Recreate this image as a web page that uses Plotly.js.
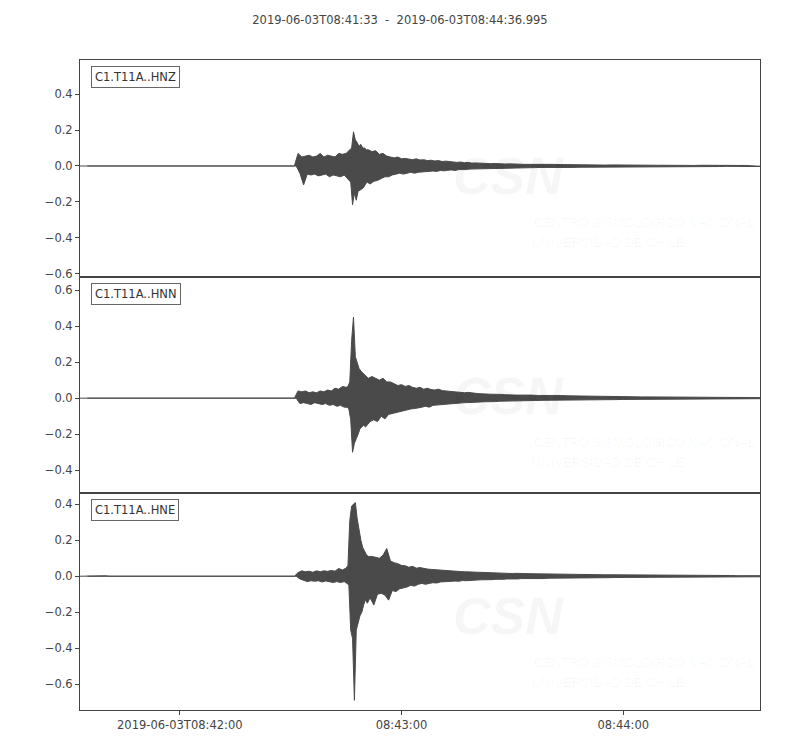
<!DOCTYPE html>
<html>
<head>
<meta charset="utf-8">
<script src="https://cdn.plot.ly/plotly-3.0.1.min.js"></script>
<style>
  body { margin: 0; background: #fff; }
  #seis { width: 800px; height: 750px; }
</style>
</head>
<body>
<div id="seis"></div>
<script>
// channel names shown in the boxes
var channels = ['C1.T11A..HNZ', 'C1.T11A..HNN', 'C1.T11A..HNE'];

// sample times, seconds after 2019-06-03T08:41:33
var tSec = [0, 4, 5, 6, 7, 8, 58,
  59, 60, 61, 62, 63, 64, 65, 66, 67, 68, 69, 70, 71,
  72, 72.5, 73, 73.5, 74, 74.5, 75, 75.5, 76, 76.5, 77, 77.5, 78,
  79, 80, 81, 82, 83, 84, 85, 86, 87, 88, 89, 90, 91, 92, 93, 94, 95, 96, 97, 98, 99,
  100, 101, 102, 103, 104, 105, 106, 107, 108, 109, 110, 111, 112, 113, 114, 115, 116, 117, 118, 119, 120,
  122, 124, 126, 128, 130, 132, 134, 136, 138, 140, 142, 144, 146, 148, 150, 152, 154, 156, 158,
  160, 162, 164, 166, 168, 170, 172, 174, 176, 178, 180, 182, 184];

// upper / lower swing of each trace at every sample time
var hnzUp = [0, 0, 0, 0, 0, 0, 0,
  0.07, 0.05, 0.055, 0.06, 0.05, 0.055, 0.07, 0.05, 0.06, 0.055, 0.05, 0.07, 0.065,
  0.07, 0.08, 0.09, 0.1, 0.19, 0.145, 0.13, 0.11, 0.12, 0.1, 0.1, 0.09, 0.09,
  0.08, 0.085, 0.065, 0.07, 0.055, 0.05, 0.045, 0.05, 0.04, 0.042, 0.038, 0.035, 0.04, 0.033, 0.035, 0.03, 0.032, 0.028, 0.03, 0.025, 0.027,
  0.024, 0.022, 0.02, 0.022, 0.018, 0.02, 0.016, 0.017, 0.015, 0.016, 0.014, 0.013, 0.014, 0.012, 0.013, 0.011, 0.012, 0.01, 0.011, 0.01, 0.009,
  0.01, 0.009, 0.008, 0.009, 0.008, 0.007, 0.008, 0.007, 0.006, 0.006, 0.005, 0.006, 0.005, 0.005, 0.004, 0.005, 0.004, 0.004, 0.004,
  0.003, 0.004, 0.003, 0.003, 0.004, 0.003, 0.003, 0.003, 0.002, 0.003, 0.003, 0.002, 0.002];
var hnzLo = [0, 0, 0, 0, 0, 0, 0,
  -0.04, -0.105, -0.045, -0.05, -0.045, -0.055, -0.05, -0.045, -0.06, -0.05, -0.055, -0.06, -0.05,
  -0.065, -0.08, -0.09, -0.215, -0.15, -0.19, -0.14, -0.135, -0.13, -0.12, -0.1, -0.09, -0.1,
  -0.085, -0.08, -0.07, -0.06, -0.06, -0.05, -0.045, -0.04, -0.045, -0.04, -0.035, -0.04, -0.035, -0.03, -0.032, -0.03, -0.028, -0.03, -0.025, -0.027, -0.024,
  -0.022, -0.025, -0.02, -0.018, -0.02, -0.017, -0.018, -0.015, -0.016, -0.014, -0.015, -0.012, -0.013, -0.012, -0.011, -0.012, -0.01, -0.011, -0.01, -0.009, -0.01,
  -0.009, -0.008, -0.009, -0.008, -0.007, -0.008, -0.007, -0.006, -0.007, -0.006, -0.006, -0.005, -0.005, -0.004, -0.005, -0.004, -0.004, -0.004, -0.003,
  -0.004, -0.003, -0.003, -0.004, -0.003, -0.003, -0.003, -0.002, -0.003, -0.003, -0.002, -0.003, -0.002];

var hnnUp = [0, 0, 0, 0, 0, 0, 0,
  0.04, 0.035, 0.04, 0.03, 0.035, 0.03, 0.04, 0.035, 0.045, 0.04, 0.055, 0.05, 0.065,
  0.06, 0.065, 0.09, 0.32, 0.45, 0.23, 0.19, 0.165, 0.15, 0.14, 0.13, 0.12, 0.11,
  0.12, 0.11, 0.1, 0.11, 0.09, 0.09, 0.08, 0.07, 0.075, 0.065, 0.07, 0.06, 0.055, 0.06, 0.05, 0.055, 0.048, 0.045, 0.05, 0.042, 0.04,
  0.038, 0.035, 0.036, 0.032, 0.03, 0.032, 0.028, 0.027, 0.025, 0.026, 0.023, 0.022, 0.023, 0.02, 0.021, 0.019, 0.02, 0.018, 0.017, 0.018, 0.016,
  0.017, 0.015, 0.016, 0.014, 0.015, 0.013, 0.012, 0.012, 0.011, 0.01, 0.01, 0.009, 0.009, 0.008, 0.008, 0.007, 0.007, 0.007, 0.006,
  0.006, 0.006, 0.005, 0.005, 0.005, 0.005, 0.004, 0.004, 0.004, 0.004, 0.003, 0.003, 0.003];
var hnnLo = [0, 0, 0, 0, 0, 0, 0,
  -0.03, -0.025, -0.03, -0.035, -0.025, -0.03, -0.035, -0.03, -0.04, -0.035, -0.045, -0.04, -0.05,
  -0.05, -0.06, -0.12, -0.3, -0.25, -0.23, -0.2, -0.17, -0.16, -0.15, -0.16, -0.15, -0.13,
  -0.12, -0.13, -0.1, -0.115, -0.09, -0.085, -0.08, -0.075, -0.07, -0.065, -0.06, -0.058, -0.055, -0.05, -0.045, -0.05, -0.04, -0.042, -0.038, -0.035, -0.036,
  -0.032, -0.03, -0.028, -0.026, -0.025, -0.024, -0.022, -0.023, -0.021, -0.02, -0.02, -0.018, -0.019, -0.017, -0.016, -0.017, -0.015, -0.016, -0.014, -0.015, -0.013,
  -0.013, -0.012, -0.012, -0.011, -0.011, -0.01, -0.01, -0.009, -0.009, -0.009, -0.008, -0.008, -0.007, -0.007, -0.007, -0.006, -0.006, -0.006, -0.005,
  -0.005, -0.005, -0.005, -0.004, -0.004, -0.004, -0.004, -0.004, -0.003, -0.003, -0.003, -0.003, -0.003];

var hneUp = [0, 0.003, 0.002, 0.003, 0.002, 0, 0,
  0.02, 0.03, 0.025, 0.028, 0.022, 0.03, 0.025, 0.03, 0.027, 0.032, 0.028, 0.043, 0.035,
  0.045, 0.06, 0.31, 0.39, 0.4, 0.41, 0.32, 0.25, 0.2, 0.16, 0.14, 0.12, 0.11,
  0.11, 0.105, 0.1, 0.117, 0.154, 0.085, 0.075, 0.07, 0.06, 0.058, 0.05, 0.055, 0.045, 0.048, 0.042, 0.04, 0.038, 0.036, 0.034, 0.032, 0.03,
  0.031, 0.028, 0.027, 0.026, 0.025, 0.024, 0.023, 0.022, 0.022, 0.02, 0.021, 0.019, 0.018, 0.019, 0.017, 0.016, 0.017, 0.015, 0.016, 0.014, 0.015,
  0.014, 0.013, 0.012, 0.013, 0.011, 0.012, 0.01, 0.01, 0.009, 0.009, 0.008, 0.008, 0.008, 0.007, 0.007, 0.007, 0.006, 0.006, 0.006,
  0.005, 0.005, 0.005, 0.005, 0.004, 0.004, 0.004, 0.004, 0.004, 0.003, 0.003, 0.003, 0.003];
var hneLo = [0, -0.003, -0.003, -0.002, -0.002, 0, 0,
  -0.015, -0.022, -0.03, -0.025, -0.028, -0.025, -0.032, -0.026, -0.03, -0.035, -0.03, -0.035, -0.03,
  -0.04, -0.05, -0.3, -0.346, -0.69, -0.3, -0.27, -0.22, -0.2, -0.16, -0.13, -0.15, -0.12,
  -0.16, -0.1, -0.095, -0.105, -0.133, -0.08, -0.085, -0.07, -0.065, -0.06, -0.05, -0.055, -0.045, -0.04, -0.045, -0.04, -0.036, -0.038, -0.032, -0.033, -0.03,
  -0.028, -0.027, -0.028, -0.024, -0.025, -0.022, -0.023, -0.021, -0.02, -0.02, -0.018, -0.019, -0.017, -0.016, -0.017, -0.015, -0.016, -0.014, -0.015, -0.013, -0.014,
  -0.012, -0.013, -0.011, -0.011, -0.01, -0.01, -0.009, -0.009, -0.008, -0.008, -0.008, -0.007, -0.007, -0.007, -0.006, -0.006, -0.006, -0.005, -0.005,
  -0.005, -0.005, -0.004, -0.004, -0.004, -0.004, -0.004, -0.003, -0.003, -0.003, -0.003, -0.003, -0.003];

// y tick values per panel
var ticksZ = [-0.6, -0.4, -0.2, 0.0, 0.2, 0.4];
var ticksN = [-0.4, -0.2, 0.0, 0.2, 0.4, 0.6];
var ticksE = [-0.6, -0.4, -0.2, 0.0, 0.2, 0.4];

// x ticks
var xTickVals = ['2019-06-03 08:42:00', '2019-06-03 08:43:00', '2019-06-03 08:44:00'];
var xTickText = ['2019-06-03T08:42:00', '08:43:00', '08:44:00'];

var startMs = Date.UTC(2019, 5, 3, 8, 41, 33);
function stamp(sec) {
  return new Date(startMs + sec * 1000).toISOString().replace('T', ' ').replace('Z', '');
}

// closed band: top edge through the up swings, bottom edge back through
// the down swings (set half way to the next sample)
function band(up, lo) {
  var xs = [], ys = [], i;
  for (i = 0; i < tSec.length; i++) {
    xs.push(stamp(tSec[i]));
    ys.push(up[i]);
  }
  for (i = tSec.length - 1; i >= 0; i--) {
    var half = i < tSec.length - 1 ? (tSec[i + 1] - tSec[i]) / 2 : 0.5;
    xs.push(stamp(tSec[i] + half));
    ys.push(lo[i]);
  }
  return {x: xs, y: ys};
}

function fmt(v) {
  var s = Math.abs(v).toFixed(1);
  return v < 0 ? '\u2212' + s : s;
}

var ink = '#4a4a4a';
var txt = '#444';
var font = 'DejaVu Sans';

var bz = band(hnzUp, hnzLo);
var bn = band(hnnUp, hnnLo);
var be = band(hneUp, hneLo);

function trace(b, xa, ya) {
  return {x: b.x, y: b.y, xaxis: xa, yaxis: ya, type: 'scatter', mode: 'lines',
    fill: 'toself', fillcolor: ink, line: {color: ink, width: 1}, hoverinfo: 'skip'};
}

var data = [trace(bz, 'x3', 'y'), trace(bn, 'x2', 'y2'), trace(be, 'x', 'y3')];

var xRange = ['2019-06-03 08:41:33', '2019-06-03 08:44:36.995'];

function xAxis(anchor, labels) {
  return {
    type: 'date', range: xRange, anchor: anchor, domain: [0, 1],
    showline: true, mirror: true, linecolor: '#444', linewidth: 1,
    showgrid: false, zeroline: false,
    tickmode: 'array', tickvals: xTickVals, ticktext: xTickText,
    ticks: labels ? 'outside' : '', ticklen: 4, tickcolor: '#444',
    showticklabels: labels,
    tickfont: {family: font, size: 11.5, color: txt}
  };
}

function yAxis(dom, rng, tv, anchor) {
  return {
    domain: dom, range: rng, anchor: anchor,
    showline: true, mirror: true, linecolor: '#444', linewidth: 1,
    showgrid: false, zeroline: false,
    tickmode: 'array', tickvals: tv, ticktext: tv.map(fmt),
    ticks: 'outside', ticklen: 4, tickcolor: '#444',
    tickfont: {family: font, size: 11.5, color: txt}
  };
}

// channel boxes and the faint CSN watermark, one per panel
var annotations = [];
var panelTops = [1, 2 / 3, 1 / 3];
var shift = [0, 220, 440];
var mark = 'rgba(0,0,0,0.035)';
function py(pix) { return 1 - (pix - 60) / 650; }
for (var k = 0; k < 3; k++) {
  annotations.push({
    text: channels[k], xref: 'paper', yref: 'paper', x: 0.016, y: panelTops[k] - 17 / 650,
    xanchor: 'left', yanchor: 'middle', showarrow: false,
    font: {family: font, size: 11.5, color: '#333'},
    bordercolor: '#666', borderwidth: 1, borderpad: 3, bgcolor: '#fff'
  });
  annotations.push({
    text: 'CSN', xref: 'paper', yref: 'paper', x: (508 - 80) / 680, y: py(176 + shift[k]),
    xanchor: 'center', yanchor: 'middle', showarrow: false,
    font: {family: 'Liberation Sans', size: 52, weight: 'bold', style: 'italic', color: mark}
  });
  annotations.push({
    text: 'CENTRO SISMOLÓGICO NACIONAL', xref: 'paper', yref: 'paper', x: (532 - 80) / 680, y: py(222 + shift[k]),
    xanchor: 'left', yanchor: 'middle', showarrow: false,
    font: {family: 'Liberation Sans', size: 13, color: mark}
  });
  annotations.push({
    text: 'UNIVERSIDAD DE CHILE', xref: 'paper', yref: 'paper', x: (530 - 80) / 680, y: py(242 + shift[k]),
    xanchor: 'left', yanchor: 'middle', showarrow: false,
    font: {family: 'Liberation Sans', size: 13, color: mark}
  });
}

var layout = {
  width: 800, height: 750,
  margin: {l: 80, r: 40, t: 60, b: 40},
  paper_bgcolor: '#fff', plot_bgcolor: 'rgba(0,0,0,0)',
  showlegend: false,
  font: {family: font, size: 11.5, color: txt},
  title: {
    text: '2019-06-03T08:41:33\u00a0\u00a0-\u00a0\u00a02019-06-03T08:44:36.995',
    xref: 'container', x: 0.5, xanchor: 'center',
    yref: 'container', y: 1 - 20 / 750, yanchor: 'middle',
    font: {family: font, size: 11.5, color: txt}
  },
  xaxis: xAxis('y3', true),
  xaxis2: xAxis('y2', false),
  xaxis3: xAxis('y', false),
  yaxis: yAxis([2 / 3, 1], [-0.615, 0.589], ticksZ, 'x3'),
  yaxis2: yAxis([1 / 3, 2 / 3], [-0.528, 0.674], ticksN, 'x2'),
  yaxis3: yAxis([0, 1 / 3], [-0.744, 0.461], ticksE, 'x'),
  annotations: annotations
};

Plotly.newPlot('seis', data, layout, {staticPlot: true});
</script>
</body>
</html>
